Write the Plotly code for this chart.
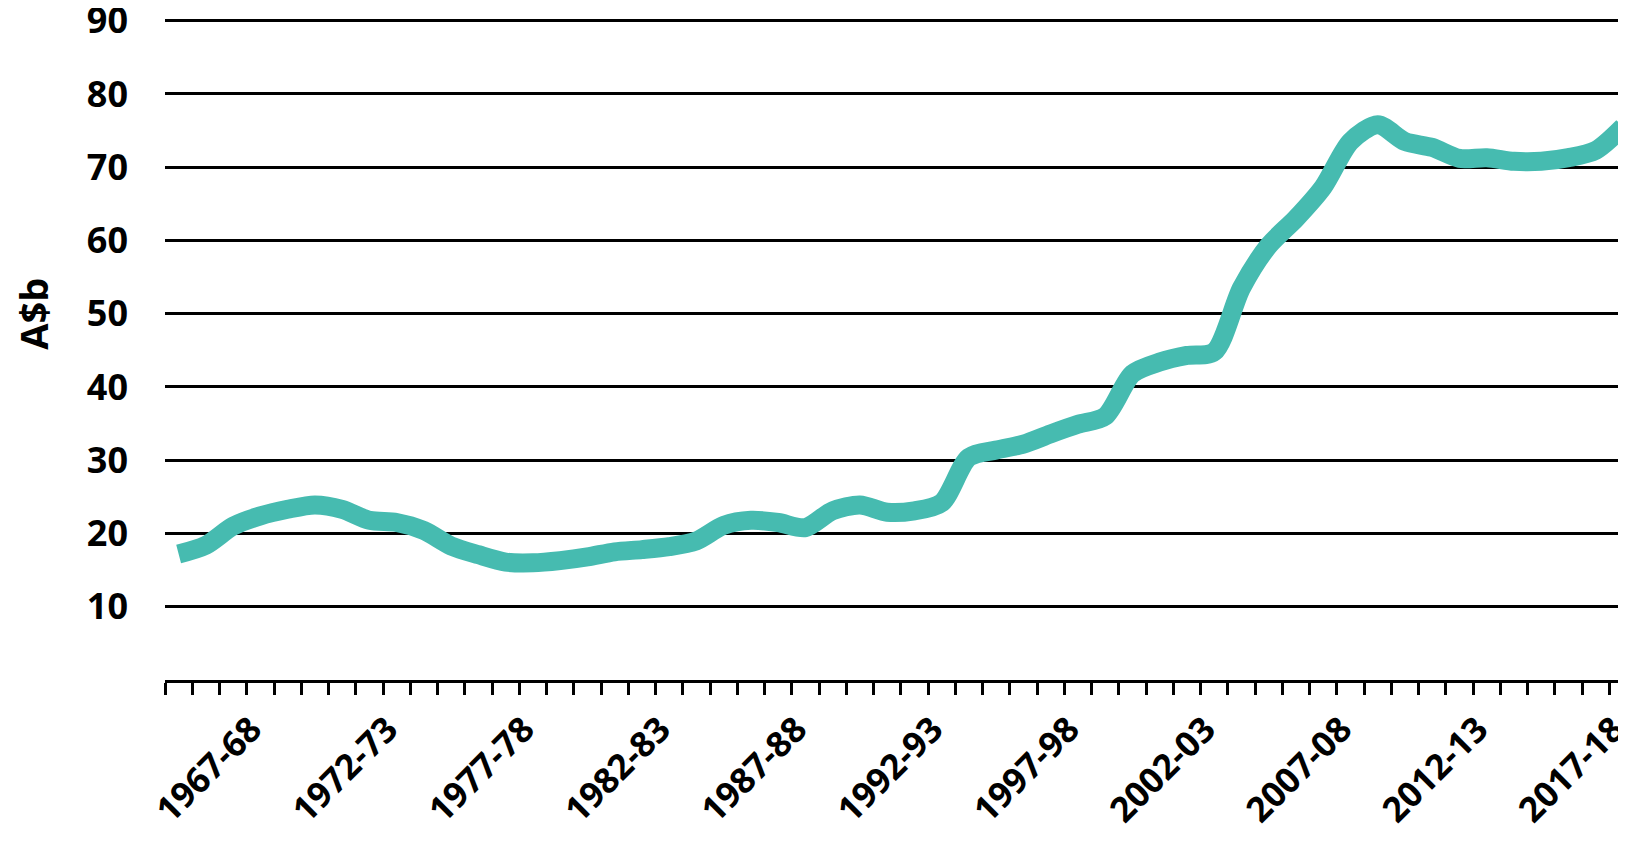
import plotly.graph_objects as go

# Financial years (categories)
years = [f"{y}-{str(y + 1)[-2:]}" for y in range(1964, 2018)]

# Values in A$b
values = [
    17.2, 18.4, 21.0, 22.4, 23.3, 23.9, 23.3, 21.8, 21.5, 20.4,
    18.3, 17.1, 16.1, 16.0, 16.3, 16.8, 17.5, 17.8, 18.2, 19.0,
    21.1, 21.8, 21.5, 20.8, 23.1, 23.9, 22.9, 23.1, 24.2, 30.4,
    31.4, 32.2, 33.6, 34.9, 36.0, 41.8, 43.4, 44.3, 44.8, 53.5,
    59.3, 63.0, 67.3, 73.5, 75.8, 73.5, 72.7, 71.2, 71.3, 70.8,
    70.8, 71.3, 72.3, 75.5,
]

label_years = ["1967-68", "1972-73", "1977-78", "1982-83", "1987-88",
               "1992-93", "1997-98", "2002-03", "2007-08", "2012-13", "2017-18"]
y_ticks = [10, 20, 30, 40, 50, 60, 70, 80, 90]

FONT = "Open Sans"

fig = go.Figure()
fig.add_trace(go.Scatter(
    x=years, y=values, mode="lines",
    line=dict(color="rgb(70,187,176)", width=19, shape="spline", smoothing=0.8),
    hoverinfo="skip", showlegend=False,
))

# the page adds an 8px body margin, so the figure is 8px smaller
fig.update_layout(
    width=1618, height=834,
    margin=dict(l=157, r=0, t=0, b=162),
    paper_bgcolor="white", plot_bgcolor="white",
    showlegend=False,
)

fig.update_xaxes(
    type="category",
    categoryorder="array", categoryarray=years,
    tickmode="array", tickvals=years,
    ticktext=[y if y in label_years else "" for y in years],
    tickson="boundaries",
    ticks="outside", ticklen=12, tickwidth=2.5, tickcolor="black",
    showline=True, linecolor="black", linewidth=2.5,
    showgrid=False, zeroline=False,
    tickangle=-45,
    ticklabelshift=-9, ticklabelstandoff=12,
    ticklabeloverflow="allow",
    tickfont=dict(family=FONT, size=35, color="black", weight=700),
    range=[-0.5, 53.11],
    automargin=False,
)

fig.update_yaxes(
    range=[0, 91.73],
    tickmode="array", tickvals=y_ticks,
    ticktext=[str(v) for v in y_ticks],
    showgrid=True, gridcolor="black", gridwidth=2.5,
    zeroline=False, showline=False, ticks="",
    ticklabelstandoff=36,
    ticklabeloverflow="allow",
    tickfont=dict(family=FONT, size=36, color="black", weight=700),
    automargin=False,
)

fig.add_annotation(
    text="A$b", xref="paper", yref="y", x=0, y=50,
    xanchor="center", yanchor="middle", xshift=-132,
    textangle=-90, showarrow=False,
    font=dict(family=FONT, size=38, color="black", weight=700),
)

fig.write_html("out.html")
